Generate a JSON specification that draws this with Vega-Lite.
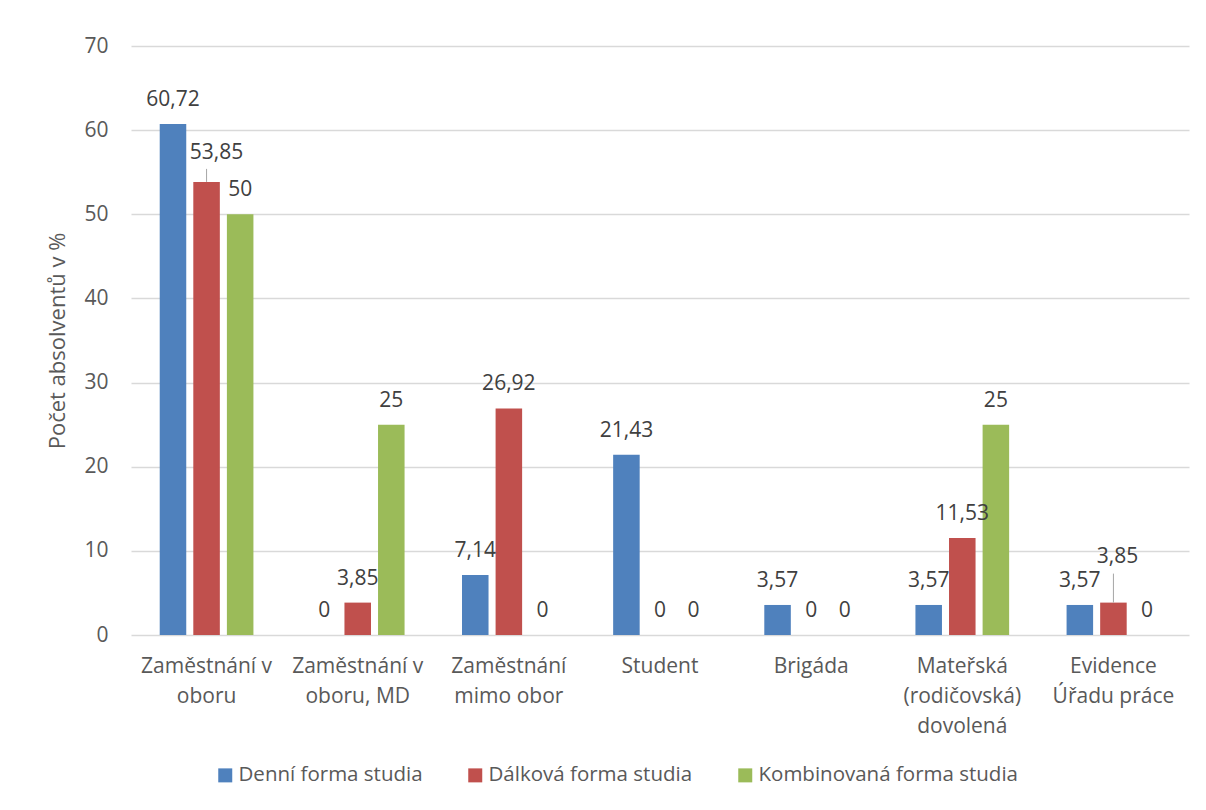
{
  "$schema": "https://vega.github.io/schema/vega-lite/v6.json",
  "width": 1058,
  "height": 589,
  "autosize": {"type": "none"},
  "padding": {"left": 131, "top": 46, "right": 17, "bottom": 175},
  "background": "white",
  "config": {
    "locale": {"number": {"decimal": ",", "thousands": " ", "grouping": [3], "currency": ["", " Kč"]}},
    "view": {"stroke": null},
    "font": "Open Sans"
  },
  "data": {
    "values": [
      {"kategorie": "Zaměstnání v oboru", "forma": "Denní forma studia", "hodnota": 60.72},
      {"kategorie": "Zaměstnání v oboru", "forma": "Dálková forma studia", "hodnota": 53.85},
      {"kategorie": "Zaměstnání v oboru", "forma": "Kombinovaná forma studia", "hodnota": 50},
      {"kategorie": "Zaměstnání v oboru, MD", "forma": "Denní forma studia", "hodnota": 0},
      {"kategorie": "Zaměstnání v oboru, MD", "forma": "Dálková forma studia", "hodnota": 3.85},
      {"kategorie": "Zaměstnání v oboru, MD", "forma": "Kombinovaná forma studia", "hodnota": 25},
      {"kategorie": "Zaměstnání mimo obor", "forma": "Denní forma studia", "hodnota": 7.14},
      {"kategorie": "Zaměstnání mimo obor", "forma": "Dálková forma studia", "hodnota": 26.92},
      {"kategorie": "Zaměstnání mimo obor", "forma": "Kombinovaná forma studia", "hodnota": 0},
      {"kategorie": "Student", "forma": "Denní forma studia", "hodnota": 21.43},
      {"kategorie": "Student", "forma": "Dálková forma studia", "hodnota": 0},
      {"kategorie": "Student", "forma": "Kombinovaná forma studia", "hodnota": 0},
      {"kategorie": "Brigáda", "forma": "Denní forma studia", "hodnota": 3.57},
      {"kategorie": "Brigáda", "forma": "Dálková forma studia", "hodnota": 0},
      {"kategorie": "Brigáda", "forma": "Kombinovaná forma studia", "hodnota": 0},
      {"kategorie": "Mateřská (rodičovská) dovolená", "forma": "Denní forma studia", "hodnota": 3.57},
      {"kategorie": "Mateřská (rodičovská) dovolená", "forma": "Dálková forma studia", "hodnota": 11.53},
      {"kategorie": "Mateřská (rodičovská) dovolená", "forma": "Kombinovaná forma studia", "hodnota": 25},
      {"kategorie": "Evidence Úřadu práce", "forma": "Denní forma studia", "hodnota": 3.57},
      {"kategorie": "Evidence Úřadu práce", "forma": "Dálková forma studia", "hodnota": 3.85},
      {"kategorie": "Evidence Úřadu práce", "forma": "Kombinovaná forma studia", "hodnota": 0}
    ]
  },
  "encoding": {
    "x": {
      "field": "kategorie",
      "type": "nominal",
      "sort": null,
      "scale": {"paddingInner": 0.38, "paddingOuter": 0.19},
      "axis": {
        "title": null,
        "domain": false,
        "ticks": false,
        "grid": false,
        "labelAngle": 0,
        "labelFontSize": 21,
        "labelColor": "#595959",
        "labelPadding": 20,
        "labelLineHeight": 30,
        "labelLimit": 0,
        "labelExpr": "datum.value == 'Zaměstnání v oboru' ? ['Zaměstnání v', 'oboru'] : datum.value == 'Zaměstnání v oboru, MD' ? ['Zaměstnání v', 'oboru, MD'] : datum.value == 'Zaměstnání mimo obor' ? ['Zaměstnání', 'mimo obor'] : datum.value == 'Mateřská (rodičovská) dovolená' ? ['Mateřská', '(rodičovská)', 'dovolená'] : datum.value == 'Evidence Úřadu práce' ? ['Evidence', 'Úřadu práce'] : datum.value"
      }
    },
    "xOffset": {
      "field": "forma",
      "type": "nominal",
      "sort": ["Denní forma studia", "Dálková forma studia", "Kombinovaná forma studia"],
      "scale": {"paddingInner": 0.21, "paddingOuter": 0}
    },
    "y": {
      "field": "hodnota",
      "type": "quantitative",
      "scale": {"domain": [0, 70], "nice": false},
      "axis": {
        "title": "Počet absolventů v %",
        "titleFontSize": 22,
        "titleFontWeight": "normal",
        "titleColor": "#595959",
        "titlePadding": 14,
        "values": [0, 10, 20, 30, 40, 50, 60, 70],
        "domain": false,
        "ticks": false,
        "labelFontSize": 21,
        "labelColor": "#595959",
        "labelPadding": 23,
        "gridColor": "#D9D9D9",
        "gridWidth": 1.5
      }
    }
  },
  "layer": [
    {
      "mark": {"type": "bar"},
      "encoding": {
        "color": {
          "field": "forma",
          "type": "nominal",
          "sort": ["Denní forma studia", "Dálková forma studia", "Kombinovaná forma studia"],
          "scale": {"range": ["#4F81BD", "#C0504D", "#9BBB59"]},
          "legend": {
            "title": null,
            "orient": "none",
            "legendX": 84,
            "legendY": 719,
            "direction": "horizontal",
            "columns": 3,
            "symbolType": "square",
            "symbolSize": 196,
            "symbolStrokeWidth": 0,
            "labelFontSize": 20.5,
            "labelColor": "#595959",
            "labelOffset": 3,
            "columnPadding": 42,
            "labelLimit": 0
          }
        }
      }
    },
    {
      "transform": [
        {"filter": "!(datum.forma == 'Dálková forma studia' && (datum.kategorie == 'Zaměstnání v oboru' || datum.kategorie == 'Evidence Úřadu práce'))"}
      ],
      "mark": {"type": "text", "baseline": "alphabetic", "dy": -18, "fontSize": 21, "color": "#404040"},
      "encoding": {"text": {"field": "hodnota", "type": "quantitative", "format": ".2~f"}}
    },
    {
      "transform": [
        {"filter": "datum.forma == 'Dálková forma studia' && datum.kategorie == 'Zaměstnání v oboru'"}
      ],
      "mark": {"type": "text", "baseline": "alphabetic", "dy": -23, "dx": 10, "fontSize": 21, "color": "#404040"},
      "encoding": {"text": {"field": "hodnota", "type": "quantitative", "format": ".2~f"}}
    },
    {
      "transform": [
        {"filter": "datum.forma == 'Dálková forma studia' && datum.kategorie == 'Evidence Úřadu práce'"}
      ],
      "mark": {"type": "text", "baseline": "alphabetic", "dy": -40, "dx": 4, "fontSize": 21, "color": "#404040"},
      "encoding": {"text": {"field": "hodnota", "type": "quantitative", "format": ".2~f"}}
    },
    {
      "transform": [
        {"filter": "datum.forma == 'Dálková forma studia' && datum.kategorie == 'Zaměstnání v oboru'"}
      ],
      "mark": {"type": "rule", "color": "#A6A6A6", "strokeWidth": 1, "y2Offset": -13},
      "encoding": {"y2": {"field": "hodnota"}}
    },
    {
      "transform": [
        {"filter": "datum.forma == 'Dálková forma studia' && datum.kategorie == 'Evidence Úřadu práce'"}
      ],
      "mark": {"type": "rule", "color": "#A6A6A6", "strokeWidth": 1, "y2Offset": -29},
      "encoding": {"y2": {"field": "hodnota"}}
    }
  ]
}
